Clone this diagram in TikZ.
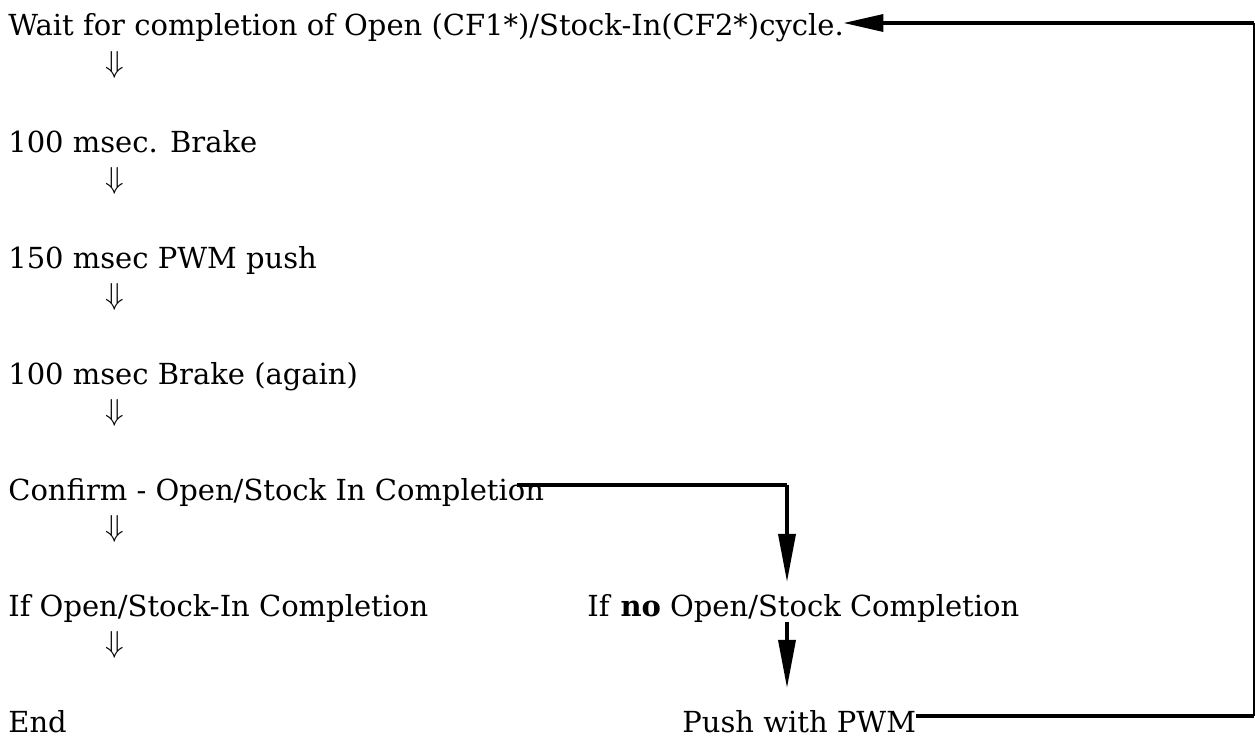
\documentclass[tikz,border=0pt]{standalone}
\usepackage{fontspec}
\setmainfont{DejaVu Serif}
\usetikzlibrary{arrows.meta}
\tikzset{
  font={\fontsize{16.5pt}{20}\selectfont},
  steptext/.style={anchor=base west},
  downmark/.style={anchor=center},
  flowline/.style={black, line width=2pt},
  flowarrow/.style={flowline, -{Triangle[length=0.96cm,width=0.34cm]}},
  backline/.style={black, line width=0.8pt}}

\begin{document}
\begin{tikzpicture}[scale=0.2]
\tikzstyle{every node}+=[inner sep=0pt]
\useasboundingbox (0,0) rectangle (125.5,-74);
% left column
\node [steptext] (wait) at (0.8,-3.6) {Wait for completion of Open (CF1*)/Stock-In(CF2*)cycle.};
\node [downmark] (d1) at (11.5,-6.5) {$\Downarrow$};
\node [steptext] (brake) at (0.8,-15.2) {100 msec. Brake};
\node [downmark] (d2) at (11.5,-18.1) {$\Downarrow$};
\node [steptext] (pwm) at (0.8,-26.8) {150 msec PWM push};
\node [downmark] (d3) at (11.5,-29.7) {$\Downarrow$};
\node [steptext] (again) at (0.8,-38.4) {100 msec Brake (again)};
\node [downmark] (d4) at (11.5,-41.3) {$\Downarrow$};
\node [steptext] (confirm) at (0.8,-50.0) {Confirm - Open/Stock In Completion};
\node [downmark] (d5) at (11.5,-52.9) {$\Downarrow$};
\node [steptext] (comp) at (0.8,-61.6) {If Open/Stock-In Completion};
\node [downmark] (d6) at (11.5,-64.5) {$\Downarrow$};
\node [steptext] (end) at (0.8,-73.2) {End};
% right column
\node [steptext] (nocomp) at (58.7,-61.6) {If \textbf{no} Open/Stock Completion};
\node [steptext] (push) at (68.2,-73.2) {Push with PWM};
% connectors
\coordinate (cfStart) at (51.7,-48.5);
\coordinate (cfTurn) at (78.7,-48.5);
\coordinate (cfTip) at (78.7,-58.2);
\coordinate (nsTip) at (78.7,-68.8);
\coordinate (loopBot) at (125.4,-71.6);
\coordinate (loopTop) at (125.4,-2.3);
\draw [flowline] (cfStart) -- (cfTurn);
\draw [flowarrow] (cfTurn) -- (cfTip);
\draw [flowarrow] (nocomp.south -| cfTurn) -- (nsTip);
\draw [flowline] (push.east |- loopBot) -- (loopBot);
\draw [backline] (loopBot) -- (loopTop);
\draw [flowline, -{Triangle[length=0.8cm,width=0.34cm]}] (loopTop) -- ([xshift=-2pt]wait.east |- loopTop);
\end{tikzpicture}
\end{document}
